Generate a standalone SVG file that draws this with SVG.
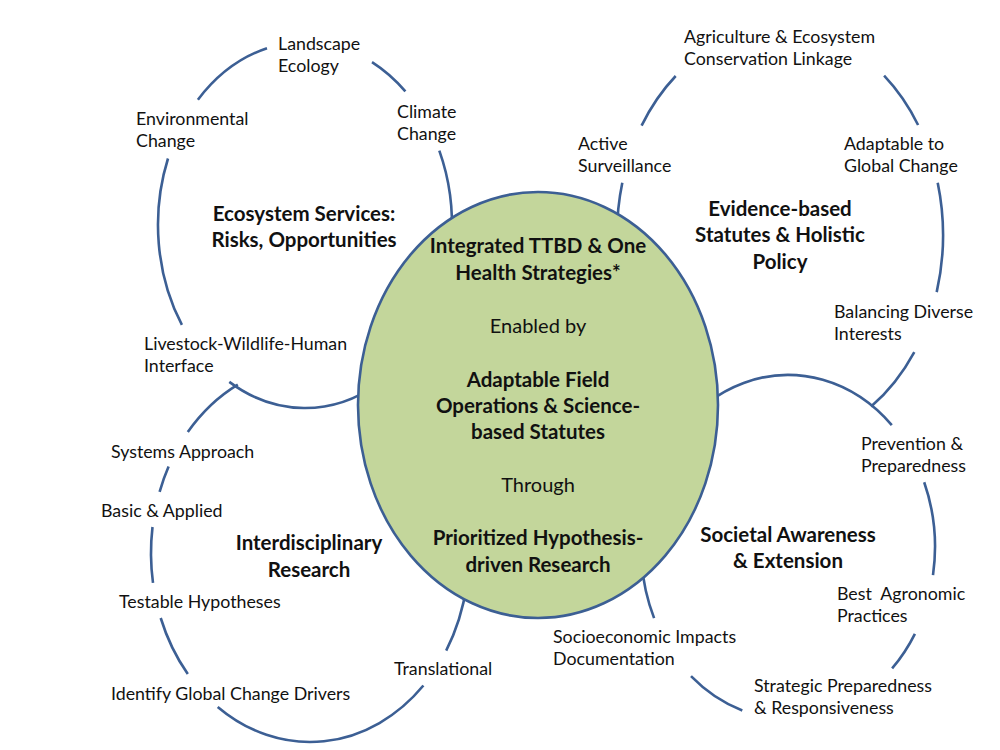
<svg xmlns="http://www.w3.org/2000/svg" width="1000" height="750" viewBox="0 0 1000 750">
<style>
.arc{fill:none;stroke:#3C5F94;stroke-width:2.6;stroke-linecap:butt}
.t{font-family:Lato,"Open Sans","Liberation Sans",sans-serif;font-size:17.8px;fill:#111}
.b{font-family:Lato,"Open Sans","Liberation Sans",sans-serif;font-size:20.5px;font-weight:bold;fill:#111;text-anchor:middle}
.c{text-anchor:middle;font-size:20px}
</style>
<rect width="1000" height="750" fill="#fff"/>
<g id="connectors">
<path class="arc" d="M197.9,99.7 A147,183 0 0 1 267.0,48.2"/>
<path class="arc" d="M372.0,62.1 A147,183 0 0 1 405.4,91.4"/>
<path class="arc" d="M439.3,150.6 A147,183 0 0 1 451.4,241"/>
<path class="arc" d="M168.0,158.5 A147,183 0 0 0 181.9,324.9"/>
<path class="arc" d="M229.3,381.9 A147,183 0 0 0 378.5,383.5"/>
<path class="arc" d="M237.8,384.6 A159,189 0 0 0 187.8,432.0"/>
<path class="arc" d="M168.6,466.6 A159,189 0 0 0 159.6,491.8"/>
<path class="arc" d="M152.5,527.0 A159,189 0 0 0 153.0,582.9"/>
<path class="arc" d="M160.7,618.0 A159,189 0 0 0 187.8,674.0"/>
<path class="arc" d="M217.7,706.9 A159,189 0 0 0 423.4,685.5"/>
<path class="arc" d="M446.2,650.6 A159,189 0 0 0 466.6,585.8"/>
<path class="arc" d="M675.7,76.0 A163,207 0 0 0 641.6,125.6"/>
<path class="arc" d="M884.1,75.7 A163,207 0 0 1 918.1,125.0"/>
<path class="arc" d="M937.7,182.8 A163,207 0 0 1 936.7,292.1"/>
<path class="arc" d="M914.3,352.2 A163,207 0 0 1 871.1,406.6"/>
<path class="arc" d="M622.3,182.8 A163,207 0 0 0 617,235"/>
<path class="arc" d="M643.2,517.1 A147,172 0 0 1 891.8,425.2"/>
<path class="arc" d="M924.2,482.3 A147,172 0 0 1 933.0,575.1"/>
<path class="arc" d="M914.9,633.8 A147,172 0 0 1 892.1,668.4"/>
<path class="arc" d="M742.3,710.5 A147,172 0 0 1 691.0,676.2"/>
<path class="arc" d="M654.1,618.1 A147,172 0 0 1 641.6,562.0"/>
</g>
<g id="ecosystem">
<text class="t" x="278" y="50">Landscape</text>
<text class="t" x="278" y="72">Ecology</text>
<text class="t" x="136" y="125">Environmental</text>
<text class="t" x="136" y="147">Change</text>
<text class="t" x="397" y="118">Climate</text>
<text class="t" x="397" y="140">Change</text>
<text class="b" x="304" y="221">Ecosystem Services:</text>
<text class="b" x="304" y="247">Risks, Opportunities</text>
<text class="t" x="144" y="350">Livestock-Wildlife-Human</text>
<text class="t" x="144" y="372">Interface</text>
</g>
<g id="policy">
<text class="t" x="684" y="43">Agriculture &amp; Ecosystem</text>
<text class="t" x="684" y="65">Conservation Linkage</text>
<text class="t" x="578" y="150">Active</text>
<text class="t" x="578" y="172">Surveillance</text>
<text class="t" x="844" y="150">Adaptable to</text>
<text class="t" x="844" y="172">Global Change</text>
<text class="b" x="780" y="216">Evidence-based</text>
<text class="b" x="780" y="242">Statutes &amp; Holistic</text>
<text class="b" x="780" y="269">Policy</text>
<text class="t" x="834" y="318">Balancing Diverse</text>
<text class="t" x="834" y="340">Interests</text>
</g>
<g id="research">
<text class="t" x="111" y="458">Systems Approach</text>
<text class="t" x="101" y="517">Basic &amp; Applied</text>
<text class="b" x="309" y="550">Interdisciplinary</text>
<text class="b" x="309" y="577">Research</text>
<text class="t" x="119" y="608">Testable Hypotheses</text>
<text class="t" x="394" y="675">Translational</text>
<text class="t" x="111" y="700">Identify Global Change Drivers</text>
</g>
<g id="societal">
<text class="t" x="861" y="450">Prevention &amp;</text>
<text class="t" x="861" y="472">Preparedness</text>
<text class="b" x="788" y="542">Societal Awareness</text>
<text class="b" x="788" y="568">&amp; Extension</text>
<text class="t" x="837" y="600" xml:space="preserve">Best  Agronomic</text>
<text class="t" x="837" y="622">Practices</text>
<text class="t" x="553" y="643">Socioeconomic Impacts</text>
<text class="t" x="553" y="665">Documentation</text>
<text class="t" x="754" y="692">Strategic Preparedness</text>
<text class="t" x="754" y="714">&amp; Responsiveness</text>
</g>
<g id="center">
<ellipse cx="538" cy="405" rx="180" ry="213" fill="#C3D69B" stroke="#3C5F94" stroke-width="2.6"/>
<text class="b" x="538" y="253">Integrated TTBD &amp; One</text>
<text class="b" x="538" y="280">Health Strategies*</text>
<text class="t c" x="538" y="333">Enabled by</text>
<text class="b" x="538" y="387">Adaptable Field</text>
<text class="b" x="538" y="413">Operations &amp; Science-</text>
<text class="b" x="538" y="439">based Statutes</text>
<text class="t c" x="538" y="492">Through</text>
<text class="b" x="538" y="545">Prioritized Hypothesis-</text>
<text class="b" x="538" y="572">driven Research</text>
</g>
</svg>
